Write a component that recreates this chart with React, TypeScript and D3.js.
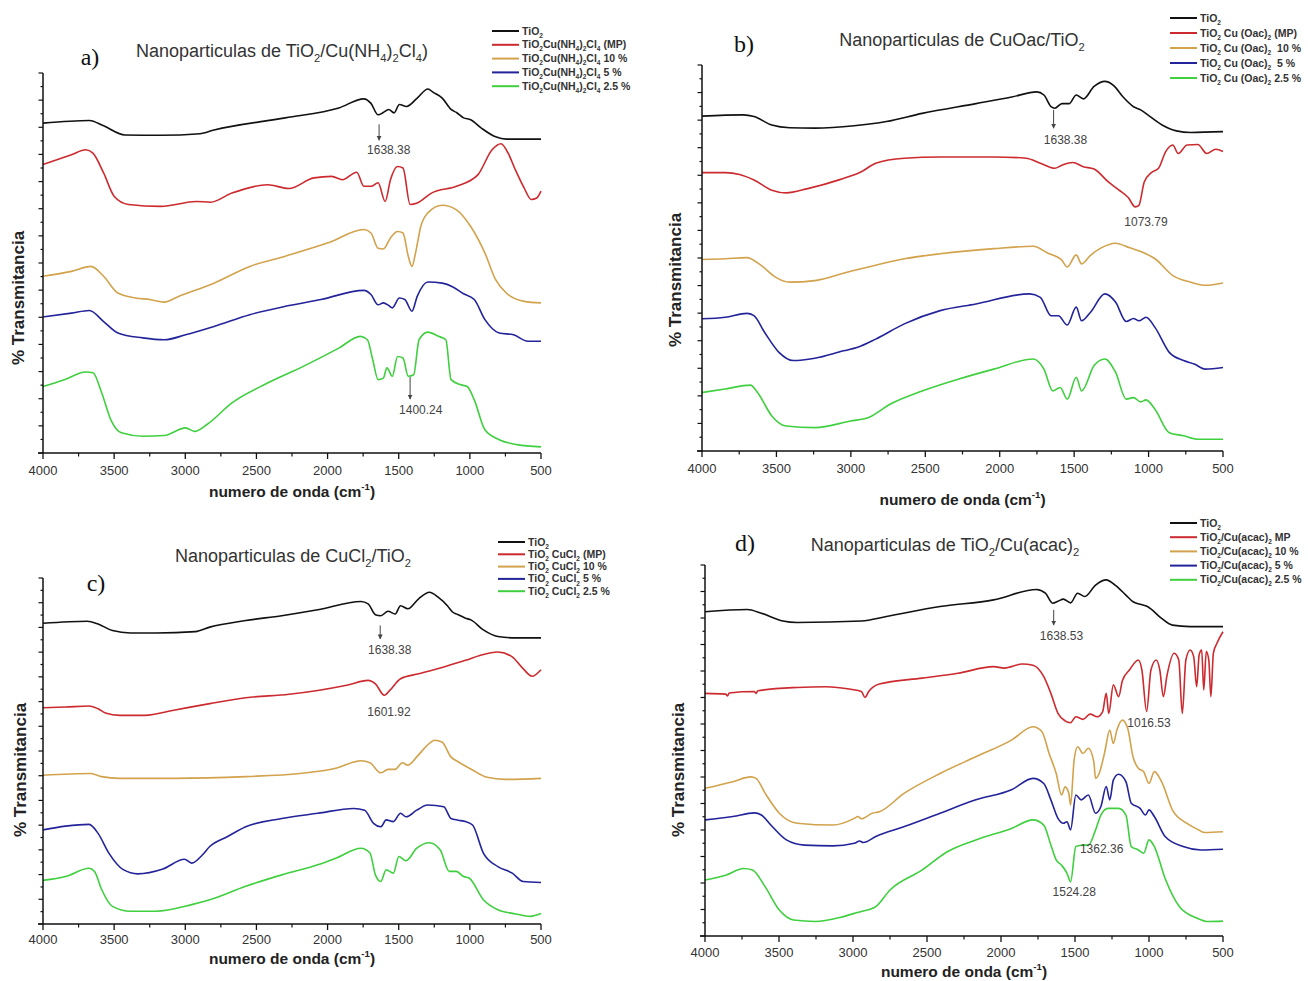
import React from 'react';
import * as d3 from 'd3';

type Pt = [number, number];

// wavenumber ticks shared by all panels
const waveTicks = [4000, 3500, 3000, 2500, 2000, 1500, 1000, 500];

const seriesColors = ['#111111', '#cc2a2e', '#d2a24c', '#23239a', '#3fcf3f'];

// ---- panel a : TiO2/Cu(NH4)2Cl4 ----
const tio2A: Pt[] = [[4000,86.8],[3674,87.5],[3574,86.1],[3424,83.7],[3173,83.6],[2898,84],[2798,85],[2297,88.2],[1921,90.8],[1745,93.2],[1695,92],[1645,89],[1608,89.6],[1570,90.4],[1533,89.5],[1495,91.7],[1445,91.2],[1370,93.4],[1295,95.8],[1257,94.9],[1194,93.4],[1132,90.4],[1094,89.6],[1044,88.2],[994,87.7],[919,85.5],[819,83.2],[744,82.6],[500,82.6]];
const mpA: Pt[] = [[4000,75.9],[3800,78.5],[3699,79.8],[3649,78.9],[3574,73.7],[3499,67.5],[3399,65.4],[3173,64.9],[2923,66.2],[2823,66],[2672,68.4],[2422,70.6],[2272,69.6],[2096,72.4],[1971,72.8],[1896,71.9],[1795,73.9],[1745,70.2],[1695,70.2],[1645,71.1],[1595,66.2],[1558,71.9],[1508,75.4],[1470,75],[1420,65.4],[1370,65.8],[1270,68.4],[1094,70.2],[944,73.2],[844,79.8],[781,81.4],[731,78.9],[681,74.6],[618,69.7],[568,66.7],[530,67.1],[500,68.9]];
const p10A: Pt[] = [[4000,46.5],[3800,47.8],[3662,49.1],[3574,46.5],[3474,42.1],[3349,40.8],[3249,40.4],[3148,39.7],[3048,41.2],[2798,44.7],[2547,49.1],[2297,51.8],[1996,55.3],[1745,58.8],[1695,57.9],[1645,53.9],[1608,53.7],[1558,56.6],[1508,58.3],[1470,57.9],[1433,51.8],[1407,49.1],[1382,52.6],[1345,59.6],[1295,63.2],[1194,65.2],[1094,64],[994,59.6],[894,52.6],[819,45.6],[744,42.1],[618,39.9],[500,39.5]];
const p5A: Pt[] = [[4000,35.8],[3800,36.8],[3674,37.5],[3574,34.6],[3474,31.6],[3299,30.3],[3148,29.8],[2998,31.1],[2798,33.3],[2547,36.4],[2297,38.6],[2046,40.4],[1745,42.8],[1695,41.7],[1645,39],[1608,39.5],[1570,38.8],[1545,38.2],[1495,40.8],[1457,40.4],[1407,37.3],[1370,41.2],[1295,45],[1194,44.7],[1119,43.7],[1044,41.9],[969,40.4],[894,35.1],[794,31.6],[693,31.1],[593,29.4],[500,29.4]];
const p25A: Pt[] = [[4000,17.5],[3850,19.3],[3699,21.3],[3649,21.1],[3587,15.8],[3524,8.8],[3449,5.3],[3299,4.4],[3148,4.6],[2998,6.6],[2935,5.7],[2848,7.5],[2672,13.2],[2422,18.4],[2171,22.8],[1921,27.6],[1770,30.7],[1720,29.8],[1683,24.6],[1645,19.3],[1608,19.7],[1583,22.4],[1545,20.2],[1508,25.4],[1470,25],[1433,20.2],[1395,20.6],[1357,29.8],[1295,31.8],[1220,30.7],[1169,29.8],[1132,19.3],[1069,18],[1019,17.5],[969,14],[894,6.1],[794,3.5],[668,2.2],[500,1.6]];
const legendA = ['TiO_{2}', 'TiO_{2}Cu(NH_{4})_{2}Cl_{4} (MP)', 'TiO_{2}Cu(NH_{4})_{2}Cl_{4} 10 %', 'TiO_{2}Cu(NH_{4})_{2}Cl_{4} 5 %', 'TiO_{2}Cu(NH_{4})_{2}Cl_{4} 2.5 %'];

// ---- panel b : CuOac/TiO2 ----
const tio2B: Pt[] = [[4000,85.9],[3723,86.2],[3651,85.8],[3531,83.6],[3411,82.9],[3242,82.8],[2978,83.4],[2761,84.5],[2521,86.6],[2160,89.1],[1919,90.8],[1751,92.1],[1703,91.3],[1655,88.3],[1630,87.9],[1582,89.1],[1534,89.1],[1486,91.3],[1438,90.3],[1366,93.5],[1294,94.8],[1234,93.7],[1174,90.9],[1101,88.3],[1053,87.5],[1005,86.2],[909,83.6],[813,82.1],[717,81.7],[500,81.9]];
const mpB: Pt[] = [[4000,71.4],[3844,71.4],[3747,70.9],[3651,69.5],[3531,66.9],[3435,66.2],[3290,67.3],[3074,69.6],[2930,71.6],[2833,73.8],[2641,75.1],[2400,75.4],[2040,75.4],[1823,75.1],[1727,73.8],[1631,72.5],[1582,73.3],[1510,74],[1438,72.9],[1366,72.3],[1270,69],[1198,66.9],[1137,65],[1089,62.6],[1065,63],[1029,69],[981,71.4],[933,72.5],[885,76.8],[837,78.5],[801,76.3],[741,78.5],[669,78.6],[609,76.3],[549,77.4],[500,76.8]];
const p10B: Pt[] = [[4000,49.1],[3844,49.3],[3699,49.6],[3603,47.6],[3507,44.6],[3411,43.3],[3242,43.7],[3002,46.1],[2881,47.2],[2641,49.3],[2400,50.6],[2040,51.9],[1775,52.5],[1679,50.8],[1582,48.9],[1546,47.2],[1486,50.3],[1450,48],[1390,50.2],[1318,52.1],[1222,53.3],[1126,52.1],[1029,50.8],[957,49.3],[837,45],[717,43.3],[620,42.5],[500,43.1]];
const p5B: Pt[] = [[4000,33.9],[3844,34.3],[3699,35.3],[3651,34.7],[3579,30.4],[3483,25.3],[3387,23.2],[3242,23.8],[3050,25.7],[2954,26.6],[2833,28.7],[2641,32.6],[2400,36],[2160,37.7],[1799,40.3],[1727,39.4],[1655,34.7],[1606,34.7],[1546,32.3],[1486,36.9],[1450,33.4],[1390,35.6],[1294,40.3],[1222,38.2],[1150,33.2],[1101,34],[1065,33.4],[1017,34.3],[957,31.7],[861,25.3],[765,23.2],[693,22.3],[620,21],[500,21.4]];
const p25B: Pt[] = [[4000,15],[3844,15.9],[3675,16.9],[3627,15],[3531,9],[3435,6.4],[3242,6],[3002,7.7],[2881,8.6],[2737,12],[2521,15.4],[2280,18.4],[2040,21],[1775,23.6],[1703,21],[1643,15.4],[1594,16.3],[1546,13.3],[1486,18.9],[1450,15.4],[1366,21.9],[1294,23.6],[1222,20.2],[1150,13.3],[1101,13.7],[1053,12.6],[1017,13.1],[957,10.7],[861,4.7],[765,3.9],[669,3],[500,3]];
const legendB = ['TiO_{2}', 'TiO_{2} Cu (Oac)_{2} (MP)', 'TiO_{2} Cu (Oac)_{2}  10 %', 'TiO_{2} Cu (Oac)_{2}  5 %', 'TiO_{2} Cu (Oac)_{2} 2.5 %'];

// ---- panel c : CuCl2/TiO2 ----
const tio2C: Pt[] = [[4000,86.9],[3689,87.5],[3613,86.7],[3512,84.8],[3385,84.1],[3208,84.1],[2929,84.5],[2828,85.8],[2575,87.7],[2322,89.1],[2069,90.8],[1765,93.2],[1715,92.5],[1664,89.4],[1626,89.1],[1575,90.4],[1525,89.6],[1487,92],[1436,91.1],[1360,94],[1284,95.9],[1221,94.4],[1158,92],[1120,90.1],[1082,89.4],[1031,88.4],[993,87.9],[905,85],[803,83.1],[677,82.7],[500,82.7]];
const mpC: Pt[] = [[4000,62.5],[3841,62.7],[3676,63],[3613,62.2],[3562,61],[3461,60.3],[3284,60.3],[3081,61.8],[2828,63.7],[2575,65.4],[2271,66.4],[2069,67.5],[1866,69],[1715,70.4],[1664,69.4],[1601,66.1],[1563,67.5],[1487,70.9],[1360,72.3],[1183,74.3],[1031,76.2],[930,77.6],[803,78.6],[702,77.2],[626,73.8],[563,71.6],[500,73.5]];
const p10C: Pt[] = [[4000,43],[3663,43.5],[3587,42.6],[3461,42.1],[3081,42.1],[2575,42.6],[2195,43.5],[1942,45],[1765,47.2],[1702,46.6],[1626,43.7],[1575,44.7],[1525,44.7],[1474,46.6],[1436,45.9],[1373,48.3],[1310,51.2],[1246,53.1],[1196,52.6],[1133,48.3],[1082,46.9],[981,44.5],[879,42.4],[753,41.8],[500,42.1]];
const p5C: Pt[] = [[4000,27.2],[3841,28.3],[3676,28.8],[3613,26.2],[3537,20.5],[3436,15.7],[3334,14.5],[3157,15.9],[3005,18.7],[2955,17.6],[2879,20],[2828,22.4],[2702,25.3],[2575,28.1],[2322,30.5],[2069,32],[1816,33.4],[1740,32.9],[1677,29.1],[1626,28.1],[1588,30.1],[1538,29.6],[1487,32],[1449,31],[1373,32.9],[1297,34.4],[1183,33.9],[1133,30.5],[1082,30],[1031,29.6],[981,28.6],[905,20.5],[803,16.6],[702,14.7],[626,12.3],[500,12]];
const p25C: Pt[] = [[4000,12.6],[3841,13.7],[3676,16.1],[3638,15.2],[3587,9.9],[3512,5.1],[3385,3.7],[3208,3.7],[2955,5.6],[2828,7],[2575,10.9],[2322,14.2],[2069,17.1],[1942,19],[1765,21.9],[1702,20.5],[1664,14.2],[1626,12.3],[1588,15.7],[1538,14.7],[1499,19.5],[1449,18.3],[1373,21.9],[1284,23.5],[1208,21.4],[1145,15.2],[1095,15.2],[1044,13.7],[1006,13.3],[905,7],[803,4.1],[677,2.9],[576,2.2],[500,3]];
const legendC = ['TiO_{2}', 'TiO_{2} CuCl_{2} (MP)', 'TiO_{2} CuCl_{2} 10 %', 'TiO_{2} CuCl_{2} 5 %', 'TiO_{2} CuCl_{2} 2.5 %'];

// ---- panel d : TiO2/Cu(acac)2 ----
const tio2D: Pt[] = [[4000,87.4],[3715,88],[3619,87],[3474,84.9],[3377,84.5],[2943,84.9],[2774,86.1],[2412,88.8],[2050,90.6],[1760,93.4],[1700,92.4],[1651,89.7],[1615,90.2],[1579,90.8],[1530,89.8],[1482,92.4],[1434,91.5],[1361,94.6],[1289,96],[1229,94.6],[1156,91.9],[1108,90.1],[1060,89.4],[1011,88.8],[915,85.6],[842,83.8],[722,83.4],[500,83.4]];
const mpD: Pt[] = [[4000,65.4],[3860,65.2],[3848,64.7],[3836,65.5],[3667,65.9],[3655,65.4],[3643,66.1],[3377,67],[3184,67.2],[3015,66.5],[2943,65.9],[2919,64.3],[2894,65.9],[2822,67.9],[2532,69.5],[2291,70.8],[2050,72.6],[1977,72.2],[1856,73.3],[1784,73],[1711,69.9],[1663,65.4],[1615,60],[1567,58],[1530,57.5],[1494,59.1],[1446,58.4],[1398,59.8],[1349,59.1],[1313,60.5],[1289,65.4],[1272,60],[1241,67.7],[1205,64.5],[1180,68.8],[1132,71.7],[1072,74.4],[1048,71.7],[1016,60.5],[987,71.7],[951,74.4],[927,71.7],[903,64.5],[879,70.1],[830,76.2],[799,74.4],[775,60],[751,74.4],[722,77.1],[698,75.3],[678,67.2],[661,75.8],[644,77.1],[630,66.3],[613,76.7],[596,74.4],[582,64.5],[565,76.2],[541,78.9],[500,82]];
const p10D: Pt[] = [[4000,39.8],[3812,41.6],[3691,42.9],[3655,42.5],[3594,38.5],[3498,33.1],[3377,30.4],[3136,29.9],[2991,31.7],[2967,32.2],[2943,31.6],[2870,33.1],[2822,33.5],[2653,38.5],[2412,43.8],[2170,48.3],[1929,52.8],[1784,56.4],[1724,55.1],[1675,49.2],[1627,43.8],[1591,38],[1567,40.2],[1542,38.5],[1530,35.3],[1506,47.4],[1482,51],[1446,49.2],[1410,50.6],[1373,47],[1361,42.5],[1337,43.8],[1301,49.2],[1265,55.5],[1241,51.9],[1217,55.5],[1180,58.2],[1144,56],[1108,48.3],[1072,45.2],[1036,44.3],[1000,41.1],[964,44.3],[915,41.6],[842,34],[746,30.4],[674,28.8],[625,27.9],[500,28.1]];
const p5D: Pt[] = [[4000,31.3],[3812,32.2],[3667,33.2],[3619,32.6],[3546,29.5],[3450,25.9],[3329,24.5],[3136,24.3],[2991,25],[2955,25.6],[2931,25.2],[2846,26.8],[2653,29.5],[2412,33.1],[2170,36.7],[1929,39.4],[1784,42.5],[1711,41.1],[1663,36.7],[1615,31.7],[1579,30.4],[1554,30.8],[1530,28.6],[1494,38],[1458,36.7],[1410,38],[1361,33.1],[1325,34.9],[1289,40.3],[1265,36.7],[1241,42],[1205,43.6],[1156,41.6],[1120,35.8],[1060,34.4],[1024,32.6],[1000,34],[964,32.2],[891,26.8],[770,24.1],[649,23.2],[500,23.4]];
const p25D: Pt[] = [[4000,15.1],[3860,16.4],[3739,18.2],[3679,17.8],[3594,13.3],[3498,7],[3401,4.3],[3256,3.9],[3087,5],[2991,6.1],[2943,6.6],[2846,7.9],[2750,12.4],[2532,17.8],[2363,22.7],[2170,25.9],[1929,29],[1784,31.3],[1711,29.9],[1663,24.5],[1627,20.5],[1591,19.1],[1554,16.9],[1530,14.6],[1494,24.1],[1446,24.5],[1410,24.5],[1361,28.6],[1325,32.6],[1277,34.4],[1205,34.4],[1156,32.6],[1120,24.1],[1072,23.2],[1036,22.3],[1000,25.9],[964,24.1],[891,15.5],[794,7.9],[674,4.8],[601,3.9],[500,4]];
const legendD = ['TiO_{2}', 'TiO_{2}/Cu(acac)_{2} MP', 'TiO_{2}/Cu(acac)_{2} 10 %', 'TiO_{2}/Cu(acac)_{2} 5 %', 'TiO_{2}/Cu(acac)_{2} 2.5 %'];

type Note = { text: string; lx: number; ly: number; arrow?: [number, number, number] };

const notesA: Note[] = [
  { text: '1638.38', lx: 1570, ly: 79.8, arrow: [1638, 86.5, 82.3] },
  { text: '1400.24', lx: 1345, ly: 11.4, arrow: [1420, 20, 14.2] },
];
const notesB: Note[] = [
  { text: '1638.38', lx: 1558, ly: 79.8, arrow: [1638, 87.5, 82.8] },
  { text: '1073.79', lx: 1017, ly: 58.9 },
];
const notesC: Note[] = [
  { text: '1638.38', lx: 1563, ly: 79.3, arrow: [1630, 86.3, 82.4] },
  { text: '1601.92', lx: 1568, ly: 61.3 },
];
const notesD: Note[] = [
  { text: '1638.53', lx: 1591, ly: 80.9, arrow: [1644, 87.9, 83.8] },
  { text: '1016.53', lx: 1000, ly: 57.5 },
  { text: '1362.36', lx: 1320, ly: 23.5 },
  { text: '1524.28', lx: 1505, ly: 11.8 },
];

const panels = [
  { key: 'a', letter: 'a)', title: 'Nanoparticulas de TiO_{2}/Cu(NH_{4})_{2}Cl_{4})', series: [tio2A, mpA, p10A, p5A, p25A], legend: legendA, notes: notesA,
    x0: 43, x1: 541, y0: 73, y1: 453, yMax: 100, tx: 282, ty: 57, lx: 90, ly: 65, legX: 492, legY: 31, legDy: 13.8, xtY: 497, ytX: 24, ytY: 298, tickY: 22 },
  { key: 'b', letter: 'b)', title: 'Nanoparticulas de CuOac/TiO_{2}', series: [tio2B, mpB, p10B, p5B, p25B], legend: legendB, notes: notesB,
    x0: 702, x1: 1223, y0: 65, y1: 451, yMax: 99, tx: 962, ty: 46, lx: 744, ly: 52, legX: 1170, legY: 18, legDy: 15, xtY: 505, ytX: 681, ytY: 280, tickY: 22 },
  { key: 'c', letter: 'c)', title: 'Nanoparticulas de CuCl_{2}/TiO_{2}', series: [tio2C, mpC, p10C, p5C, p25C], legend: legendC, notes: notesC,
    x0: 43, x1: 541, y0: 578, y1: 924, yMax: 100, tx: 293, ty: 562, lx: 96, ly: 591, legX: 498, legY: 542, legDy: 12.3, xtY: 964, ytX: 26, ytY: 770, tickY: 20 },
  { key: 'd', letter: 'd)', title: 'Nanoparticulas de TiO_{2}/Cu(acac)_{2}', series: [tio2D, mpD, p10D, p5D, p25D], legend: legendD, notes: notesD,
    x0: 705, x1: 1223, y0: 565, y1: 936, yMax: 100, tx: 945, ty: 551, lx: 745, ly: 551, legX: 1170, legY: 523, legDy: 14.2, xtY: 977, ytX: 684, ytY: 770, tickY: 21 },
];

// split "TiO_{2}" style strings into normal / sub / sup runs
function richParts(s: string) {
  const out: { t: string; k: string }[] = [];
  const re = /([_^])\{([^}]*)\}/g;
  let last = 0;
  let m: RegExpExecArray | null;
  while ((m = re.exec(s))) {
    if (m.index > last) out.push({ t: s.slice(last, m.index), k: 'n' });
    out.push({ t: m[2], k: m[1] === '_' ? 'sub' : 'sup' });
    last = re.lastIndex;
  }
  if (last < s.length) out.push({ t: s.slice(last), k: 'n' });
  return out;
}

function Rich({ s, size, ...rest }: any) {
  let shift = 0;
  const parts = richParts(s);
  return (
    <text fontSize={size} {...rest} style={{ whiteSpace: 'pre' }}>
      {parts.map((p, i) => {
        const target = p.k === 'sub' ? size * 0.3 : p.k === 'sup' ? -size * 0.45 : 0;
        const dy = target - shift;
        shift = target;
        return (
          <tspan key={i} dy={dy !== 0 ? dy : undefined} fontSize={p.k === 'n' ? size : size * 0.62}>{p.t}</tspan>
        );
      })}
    </text>
  );
}

const sans = '"Liberation Sans", Arial, sans-serif';

function Panel({ cfg }: any) {
  const x = d3.scaleLinear().domain([4000, 500]).range([cfg.x0, cfg.x1]);
  const y = d3.scaleLinear().domain([0, cfg.yMax]).range([cfg.y1, cfg.y0]);
  const line = d3.line<Pt>().x(d => x(d[0])).y(d => y(d[1])).curve(d3.curveMonotoneX);
  const minorX = waveTicks.slice(1).map((t, i) => (t + waveTicks[i]) / 2);
  const yStep = (cfg.y1 - cfg.y0) / 28;
  const yTicks = d3.range(0, 29).map(i => ({ py: cfg.y1 - i * yStep, major: i % 2 === 0 }));

  return (
    <g>
      {cfg.series.map((s: Pt[], i: number) => (
        <path key={i} d={line(s) || ''} fill="none" stroke={seriesColors[i]} strokeWidth={1.6} strokeLinejoin="round" />
      ))}

      {/* axes */}
      <line x1={cfg.x0 - 5} x2={cfg.x1} y1={cfg.y1} y2={cfg.y1} stroke="#111" strokeWidth={1.5} />
      <line x1={cfg.x0} x2={cfg.x0} y1={cfg.y0} y2={cfg.y1} stroke="#111" strokeWidth={1.5} />
      {waveTicks.map(t => (
        <g key={t}>
          <line x1={x(t)} x2={x(t)} y1={cfg.y1} y2={cfg.y1 + 6} stroke="#111" strokeWidth={1.3} />
          <text x={x(t)} y={cfg.y1 + cfg.tickY} textAnchor="middle" fontSize={13} fill="#333" fontFamily={sans}>{t}</text>
        </g>
      ))}
      {minorX.map(t => (
        <line key={t} x1={x(t)} x2={x(t)} y1={cfg.y1} y2={cfg.y1 + 3.5} stroke="#111" strokeWidth={1.2} />
      ))}
      {yTicks.map((t, i) => (
        <line key={i} x1={cfg.x0 - (t.major ? 4.5 : 2.5)} x2={cfg.x0} y1={t.py} y2={t.py} stroke="#111" strokeWidth={1.2} />
      ))}

      {/* axis titles */}
      <Rich s={'numero de onda (cm^{-1})'} size={15.5} x={(cfg.x0 + cfg.x1) / 2} y={cfg.xtY} textAnchor="middle" fontWeight="bold" fill="#222" fontFamily={sans} />
      <text transform={`translate(${cfg.ytX},${cfg.ytY}) rotate(-90)`} textAnchor="middle" fontSize={17} fontWeight="bold" fill="#222" fontFamily={sans}>% Transmitancia</text>

      {/* titles */}
      <Rich s={cfg.title} size={18} x={cfg.tx} y={cfg.ty} textAnchor="middle" fill="#333" fontFamily={sans} />
      <text x={cfg.lx} y={cfg.ly} textAnchor="middle" fontSize={24} fill="#111" fontFamily='"Liberation Serif", "Times New Roman", serif'>{cfg.letter}</text>

      {/* legend */}
      {cfg.legend.map((lab: string, i: number) => (
        <g key={i}>
          <line x1={cfg.legX} x2={cfg.legX + 27} y1={cfg.legY + i * cfg.legDy} y2={cfg.legY + i * cfg.legDy} stroke={seriesColors[i]} strokeWidth={2} />
          <Rich s={lab} size={10.5} x={cfg.legX + 30} y={cfg.legY + i * cfg.legDy + 3.5} fontWeight="bold" fill="#333" fontFamily={sans} />
        </g>
      ))}

      {/* peak annotations */}
      {cfg.notes.map((n: Note, i: number) => (
        <g key={i}>
          {n.arrow && (
            <line x1={x(n.arrow[0])} x2={x(n.arrow[0])} y1={y(n.arrow[1])} y2={y(n.arrow[2])} stroke="#444" strokeWidth={1} markerEnd="url(#arrowHead)" />
          )}
          <text x={x(n.lx)} y={y(n.ly)} dy="0.35em" textAnchor="middle" fontSize={12} fill="#444" fontFamily={sans}>{n.text}</text>
        </g>
      ))}
    </g>
  );
}

export default function App() {
  return (
    <svg width={1308} height={981} style={{ position: 'absolute', left: 0, top: 0, background: '#fff' }}>
      <defs>
        <marker id="arrowHead" viewBox="0 0 10 10" refX="9" refY="5" markerWidth="5" markerHeight="6" orient="auto">
          <path d="M0,0 L10,5 L0,10 z" fill="#444" />
        </marker>
      </defs>
      {panels.map(p => <Panel key={p.key} cfg={p} />)}
    </svg>
  );
}
